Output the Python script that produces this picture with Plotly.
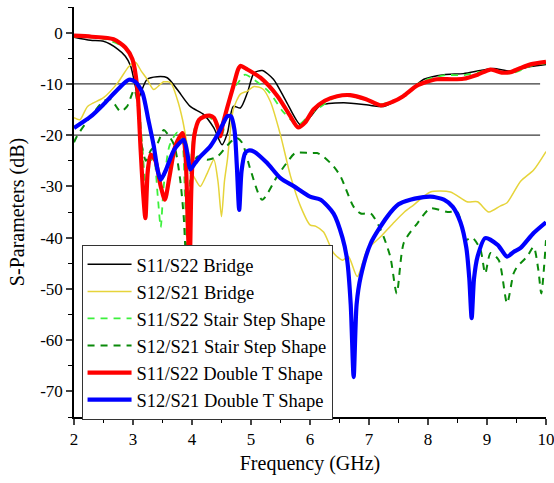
import plotly.graph_objects as go

# ---------------- data ----------------
bridge_s11_x = [2.0, 2.28, 2.5, 2.74, 2.87, 2.96, 3.04, 3.09, 3.14, 3.24, 3.41, 3.58, 3.75, 3.97, 4.2, 4.37, 4.51, 4.6,
                4.7, 4.82, 4.94, 5.05, 5.19, 5.38, 5.6, 5.84, 6.0, 6.18, 6.57, 7.03, 7.25, 7.58, 7.93, 8.27, 8.6, 8.89,
                9.11, 9.4, 9.74, 10.0]
bridge_s11_y = [-0.9, -1.5, -1.7, -3.2, -4.6, -6.5, -10.5, -13, -11.5, -9.1, -8.6, -8.8, -11.1, -14.4, -16, -18.6,
                -21.9, -19.6, -14.4, -14.7, -11.7, -7.9, -7.4, -9.1, -13.5, -18, -16.5, -14.2, -13.7, -14.2, -14.4,
                -12.4, -9.1, -8.2, -8, -7.4, -7, -7.5, -6.6, -6.2]

bridge_s12_x = [2.0, 2.1, 2.23, 2.5, 2.74, 2.93, 3.04, 3.14, 3.24, 3.35, 3.52, 3.64, 3.75, 3.84, 3.92, 4.0, 4.06, 4.14,
                4.26, 4.37, 4.44, 4.5, 4.55, 4.6, 4.7, 4.82, 4.94, 5.05, 5.2, 5.33, 5.5, 5.67, 5.84, 6.0, 6.1, 6.23,
                6.4, 6.55, 6.65, 6.8, 6.97, 7.2, 7.41, 7.6, 7.76, 8.04, 8.38, 8.66, 8.84, 9.03, 9.23, 9.34, 9.57,
                9.79, 10.0]
bridge_s12_y = [-16.6, -17, -14.4, -12.7, -9.8, -6.6, -5.8, -7.5, -9.1, -11.1, -9.6, -9.8, -13, -17, -22, -27.4,
                -28.7, -30, -27.4, -24.8, -29, -35.9, -29, -24.8, -15, -12, -11.4, -10.5, -11, -13.5, -20, -28,
                -33.9, -37.5, -37.8, -38.9, -43, -44.4, -43.7, -47.6, -42.4, -39.8, -37.2, -35, -33.6, -31.1,
                -31.1, -33, -33, -35, -33.8, -33.2, -29, -26.8, -23.2]

stair_s11_x = [2.0, 2.5, 2.87, 3.0, 3.08, 3.15, 3.22, 3.28, 3.35, 3.42, 3.47, 3.52, 3.62, 3.75, 3.83, 3.88, 3.92,
               3.97, 4.05, 4.2, 4.35, 4.5, 4.65, 4.8, 4.9, 5.05, 5.3, 5.55, 5.8, 6.0, 6.4, 6.6, 6.9, 7.2, 7.6, 7.9,
               8.3, 8.6, 8.9, 9.1, 9.4, 9.75, 10.0]
stair_s11_y = [-0.8, -1.2, -3, -5.5, -11, -21, -30, -26, -24, -32, -38, -30, -22, -19.5, -21, -32, -43, -28, -18.5,
               -16, -17, -20, -12, -9.5, -8.2, -9.2, -11.5, -15.5, -18, -16, -12.8, -12.2, -13, -14, -12.3, -9.5,
               -8.3, -8.3, -7.6, -7.3, -8, -6.5, -6]

stair_s12_x = [2.0, 2.05, 2.28, 2.5, 2.62, 2.79, 2.9, 3.02, 3.08, 3.13, 3.22, 3.3, 3.42, 3.52, 3.6, 3.7, 3.8, 3.86,
               3.9, 3.95, 4.0, 4.09, 4.26, 4.43, 4.6, 4.75, 4.85, 4.99, 5.19, 5.44, 5.6, 5.75, 6.0, 6.12, 6.23, 6.4,
               6.52, 6.74, 6.86, 7.03, 7.2, 7.36, 7.47, 7.59, 7.82, 8.04, 8.33, 8.5, 8.63, 8.75, 8.89, 8.97, 9.06,
               9.2, 9.34, 9.45, 9.51, 9.68, 9.79, 9.87, 9.92, 10.0]
stair_s12_y = [-21.4, -20.2, -16.4, -13.4, -13, -15.4, -14.4, -11.1, -14, -20.9, -25, -23, -21.5, -19, -20, -22,
               -28.7, -36, -44, -35, -27, -24.2, -24.8, -24.2, -22, -20.5, -21.5, -26.7, -32.6, -28.1, -25.5, -23.5,
               -23.5, -23.5, -24.2, -26.1, -28.1, -34, -35.3, -35.3, -38.5, -43.7, -50.9, -41, -37.2, -34.3, -35,
               -35, -40.5, -40, -42.4, -47, -43, -44.4, -52.8, -47, -45.7, -43.7, -41.8, -46.3, -50.9, -40.5]

dblt_s11_x = [2.0, 2.3, 2.67, 2.87, 2.99, 3.07, 3.13, 3.17, 3.21, 3.25, 3.3, 3.38, 3.47, 3.54, 3.62, 3.72, 3.84,
              3.89, 3.93, 3.96, 3.99, 4.04, 4.12, 4.2, 4.3, 4.37, 4.44, 4.48, 4.52, 4.6, 4.7, 4.78, 4.82, 4.94,
              5.16, 5.45, 5.65, 5.8, 5.92, 6.06, 6.25, 6.46, 6.68, 6.95, 7.2, 7.4, 7.58, 7.82, 8.15, 8.4, 8.6,
              8.84, 9.06, 9.25, 9.4, 9.55, 9.74, 10.0]
dblt_s11_y = [-0.6, -0.8, -1.3, -2.9, -5.2, -10.5, -23, -31, -36.2, -27, -23.8, -25, -30, -32.6, -28, -22, -19.6,
              -24, -38, -46, -30, -20, -17, -16.4, -16.2, -16.6, -18.5, -20.2, -18, -14.5, -10.5, -7.2, -6.5, -7.2,
              -8.8, -12.4, -16, -18.5, -17.5, -15, -13.3, -12.4, -12.2, -13, -14.2, -13.5, -12.4, -10.3, -9.1,
              -9.1, -9.0, -8.2, -7.2, -7.8, -7.7, -7.0, -6.2, -5.7]

dblt_s12_x = [2.0, 2.28, 2.5, 2.74, 2.93, 3.04, 3.16, 3.26, 3.35, 3.42, 3.47, 3.55, 3.7, 3.86, 3.92, 3.97, 4.05,
              4.14, 4.31, 4.45, 4.6, 4.66, 4.72, 4.76, 4.8, 4.84, 4.9, 4.96, 5.05, 5.27, 5.5, 5.73, 6.0, 6.18, 6.4,
              6.55, 6.63, 6.69, 6.74, 6.79, 6.86, 7.03, 7.31, 7.5, 7.7, 7.87, 8.04, 8.27, 8.42, 8.55, 8.65, 8.7,
              8.74, 8.78, 8.84, 8.97, 9.18, 9.34, 9.45, 9.57, 9.79, 10.0]
dblt_s12_y = [-18.6, -16.4, -14, -11.1, -9.2, -9.6, -11.7, -17, -22, -27, -28.7, -27, -22.8, -20.9, -23.5, -26.7,
              -25.5, -24.2, -22.2, -19.6, -16.3, -16.3, -19, -26, -34.6, -27, -23.5, -23, -23.2, -25.4, -28.4,
              -30, -32, -32.6, -35.3, -40, -44.4, -53, -67.2, -53, -47.6, -41.1, -35.9, -33.5, -32.6, -32.2, -32,
              -32.6, -34, -37, -42, -48, -55.7, -48, -43.7, -40.1, -41.4, -43.7, -42.8, -42, -39.1, -37]

ref_levels = [-10, -20]
ref_x = [2.0, 9.9]

x_ticks = [2, 3, 4, 5, 6, 7, 8, 9, 10]
y_tick_vals = [0, -10, -20, -30, -40, -50, -60, -70]
y_tick_text = ["0", "-10", "-20", "-30", "-40", "-50", "-60", "-70"]

series = [
    ("S11/S22 Bridge", bridge_s11_x, bridge_s11_y, "#000000", 1.5, "solid"),
    ("S12/S21 Bridge", bridge_s12_x, bridge_s12_y, "#E6D43A", 1.5, "solid"),
    ("S11/S22 Stair Step Shape", stair_s11_x, stair_s11_y, "#3CF03C", 1.8, "7px,6px"),
    ("S12/S21 Stair Step Shape", stair_s12_x, stair_s12_y, "#0A8A0A", 2.0, "7px,6px"),
    ("S11/S22 Double T Shape", dblt_s11_x, dblt_s11_y, "#FF0000", 4.2, "solid"),
    ("S12/S21 Double T Shape", dblt_s12_x, dblt_s12_y, "#0000FF", 4.2, "solid"),
]

FONT = "Liberation Serif, Times New Roman, serif"

fig = go.Figure()

for lvl in ref_levels:
    fig.add_trace(go.Scatter(x=ref_x, y=[lvl, lvl], mode="lines",
                             line=dict(color="#3a3a3a", width=1.4), showlegend=False, hoverinfo="skip"))

for i, (name, xs, ys, col, w, dash) in enumerate(series):
    fig.add_trace(go.Scatter(x=xs, y=ys, name=name, mode="lines",
                             line=dict(color=col, width=w, dash=dash, shape="spline", smoothing=0.7)))

fig.update_layout(
    width=554, height=483,
    margin=dict(l=74, r=8, t=7, b=66, autoexpand=False),
    paper_bgcolor="white", plot_bgcolor="white",
    font=dict(family=FONT, size=17, color="black"),
    showlegend=True,
    legend=dict(x=0.016, y=0.42, xanchor="left", yanchor="top",
                bgcolor="white", bordercolor="#333333", borderwidth=1,
                font=dict(family=FONT, size=18.5, color="black"),
                tracegroupgap=0, itemwidth=44),
)

fig.update_xaxes(range=[2, 10], tickvals=x_ticks, ticks="outside", ticklen=6, tickwidth=1.5, automargin=False,
                 ticklabeloverflow="allow",
                 showline=True, linecolor="black", linewidth=1.5, showgrid=False, zeroline=False,
                 minor=dict(dtick=0.5, ticks="outside", ticklen=4, tickwidth=1.2, tickcolor="black"),
                 tickfont=dict(size=17), title=dict(text="Frequency (GHz)", font=dict(size=20), standoff=8))
fig.update_yaxes(range=[-75, 5], tickvals=y_tick_vals, ticktext=y_tick_text, ticks="outside", ticklen=6,
                 tickwidth=1.5, showline=True, linecolor="black", linewidth=1.5, showgrid=False, zeroline=False,
                 automargin=False, ticklabeloverflow="allow",
                 minor=dict(tick0=0, dtick=5, ticks="outside", ticklen=4, tickwidth=1.2, tickcolor="black"),
                 tickfont=dict(size=17), title=dict(text="S-Parameters (dB)", font=dict(size=20), standoff=10))

fig.write_html("out.html")
